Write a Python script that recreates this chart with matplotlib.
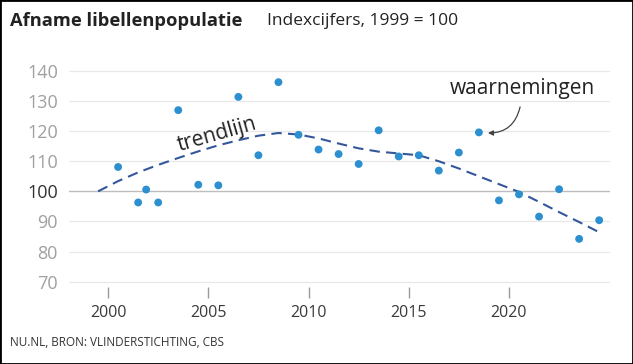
import matplotlib
matplotlib.use("Agg")
import matplotlib.pyplot as plt
from matplotlib.patches import Rectangle

plt.rcParams['font.family'] = ['Open Sans', 'DejaVu Sans']

# observations (index, 1999 = 100)
obs_years = [2000, 2001, 2001.4, 2002, 2003, 2004, 2005, 2006, 2007, 2008, 2009,
             2010, 2011, 2012, 2013, 2014, 2015, 2016, 2017, 2018, 2019, 2020,
             2021, 2022, 2023, 2024]
obs_values = [108.1, 96.3, 100.6, 96.3, 127.0, 102.2, 102.0, 131.4, 112.0, 136.3, 118.8,
              113.9, 112.4, 109.1, 120.3, 111.6, 112.0, 106.9, 112.9, 119.6, 97.0, 99.0,
              91.6, 100.7, 84.2, 90.4]

# trend line
trend_years = [1999, 2000, 2001, 2002, 2003, 2004, 2005, 2006, 2007, 2008, 2009,
               2010, 2011, 2012, 2013, 2014, 2015, 2016, 2017, 2018, 2019, 2020,
               2021, 2022, 2023, 2024]
trend_values = [100.0, 103.4, 106.3, 108.8, 111.1, 113.3, 115.3, 117.0, 118.5, 119.4, 118.9,
                117.6, 115.9, 114.3, 113.2, 112.6, 112.0, 110.0, 107.6, 105.0, 102.4, 99.8,
                96.5, 93.1, 89.8, 86.4]

x_ticks = [2000, 2005, 2010, 2015, 2020]
y_ticks = [70, 80, 90, 100, 110, 120, 130, 140]

W, H = 633, 364
fig = plt.figure(figsize=(W / 100, H / 100), dpi=100)
fig.patch.set_facecolor('white')

left, right = 69, 610
top_px, bot_px = 56, 287
ax = fig.add_axes([left / W, 1 - bot_px / H, (right - left) / W, (bot_px - top_px) / H])

ax.set_xlim(1997.55, 2024.54)
ax.set_ylim(68.2, 145)

for v in y_ticks:
    ax.axhline(v, color='#bdbdbd' if v == 100 else '#e8e8e8', lw=1.0 if v == 100 else 0.9, zorder=1)

ax.plot(trend_years, trend_values, color='#34579c', lw=1.5, dashes=(5, 3), zorder=2)
ax.scatter(obs_years, obs_values, s=32, color='#2c8fd0', edgecolor='none', zorder=3)

for s in ax.spines.values():
    s.set_visible(False)

ax.set_xticks([t - 0.5 for t in x_ticks])
ax.set_xticklabels([str(t) for t in x_ticks])
ax.tick_params(axis='x', length=8, width=1, color='#9a9a9a', pad=5, labelsize=11.5, labelcolor='#3a3a3a')
ax.set_yticks(y_ticks)
ax.set_yticklabels([str(v) for v in y_ticks])
ax.tick_params(axis='y', length=0, pad=8, labelsize=13, labelcolor='#a0a0a0')
for lab in ax.get_yticklabels():
    if lab.get_text() == '100':
        lab.set_color('#333333')

ax.text(2004.95, 118.9, 'trendlijn', rotation=16, fontsize=15, color='#222222',
        ha='center', va='center', rotation_mode='anchor')

ax.annotate('waarnemingen', xy=(2018.45, 119.4), xytext=(2020.15, 134.3),
            fontsize=15, color='#222222', ha='center', va='center',
            arrowprops=dict(arrowstyle='-|>,head_length=0.2,head_width=0.1',
                            color='#444444', lw=0.9,
                            connectionstyle='angle3,angleA=-90,angleB=0',
                            shrinkA=4, shrinkB=0))

fig.text(10 / W, 1 - 21 / H, 'Afname libellenpopulatie', fontsize=13.2, fontweight='bold',
         color='#222222', ha='left', va='center')
fig.text(267 / W, 1 - 21 / H, 'Indexcijfers, 1999 = 100', fontsize=12.5,
         color='#222222', ha='left', va='center')
fig.text(10 / W, 1 - 343 / H, 'NU.NL, BRON: VLINDERSTICHTING, CBS', fontsize=8.5,
         color='#333333', ha='left', va='center')

fig.add_artist(Rectangle((0, 0), 1, 1, transform=fig.transFigure, fill=False,
                         edgecolor='black', lw=2))

fig.savefig('out.png', dpi=100)
